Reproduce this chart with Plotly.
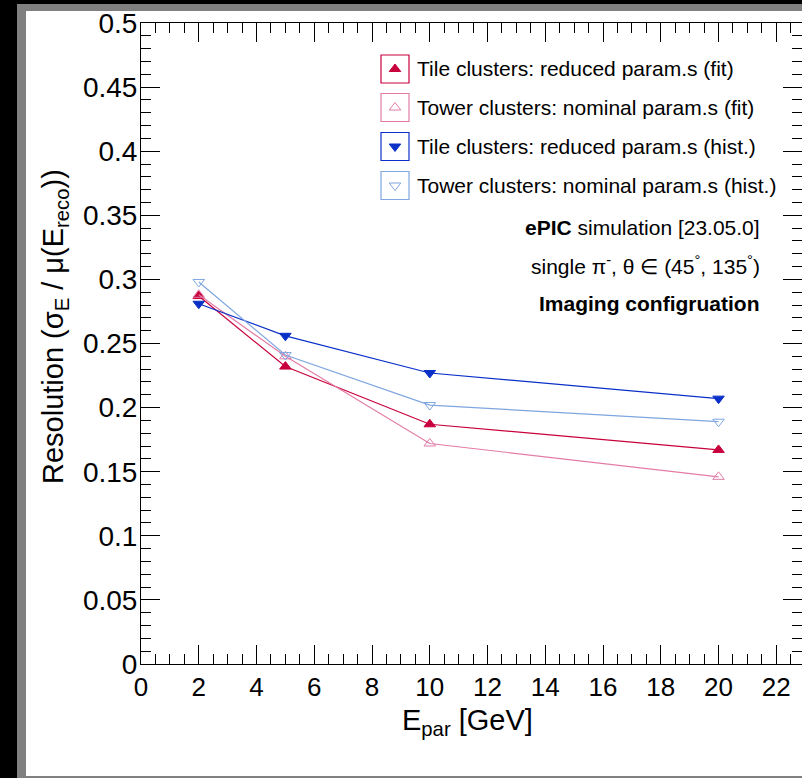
import plotly.graph_objects as go

# ---------------- data ----------------
energies = [2, 5, 10, 20]
tile_fit = [0.287, 0.232, 0.187, 0.167]
tower_fit = [0.288, 0.240, 0.172, 0.146]
tile_hist = [0.281, 0.256, 0.227, 0.207]
tower_hist = [0.298, 0.241, 0.202, 0.189]

series_names = [
    "Tile clusters: reduced param.s (fit)",
    "Tower clusters: nominal param.s (fit)",
    "Tile clusters: reduced param.s (hist.)",
    "Tower clusters: nominal param.s (hist.)",
]
series_values = [tile_fit, tower_fit, tile_hist, tower_hist]
series_colors = ["#c8003c", "#e27ca6", "#0a30c8", "#7ea6e0"]
series_symbols = ["triangle-up", "triangle-up-open", "triangle-down", "triangle-down-open"]

x_ticks = list(range(0, 23, 2))

FONT = "Liberation Sans, Arial, Helvetica, sans-serif"

W, H = 802, 778
L, R, T, B = 141, 0, 23, 114
PW = W - L - R
PH = H - T - B


def px(xp):
    return (xp - L) / PW


def py(yp):
    return (H - B - yp) / PH


fig = go.Figure()

for name, vals, col, sym in zip(series_names, series_values, series_colors, series_symbols):
    fig.add_trace(go.Scatter(
        x=energies, y=vals, mode="lines+markers", name=name,
        line=dict(color=col, width=1.2),
        marker=dict(symbol=sym, size=10, color=col, line=dict(color=col, width=1)),
        showlegend=False, cliponaxis=False,
    ))

# ---------------- manual legend ----------------
leg_x = 395
leg_rows = [69, 107.5, 146.5, 185.5]
box = 14
shapes = []
# outer black / grey frame / white canvas
shapes.append(dict(type="rect", xref="paper", yref="paper", layer="below",
                   x0=px(-20), x1=px(26), y0=py(800), y1=py(-20),
                   fillcolor="black", line=dict(width=0)))
shapes.append(dict(type="rect", xref="paper", yref="paper", layer="below",
                   x0=px(-20), x1=px(820), y0=py(11), y1=py(-20),
                   fillcolor="black", line=dict(width=0)))
shapes.append(dict(type="rect", xref="paper", yref="paper", layer="below",
                   x0=px(17), x1=px(820), y0=py(800), y1=py(4),
                   fillcolor="#808080", line=dict(width=0)))
shapes.append(dict(type="rect", xref="paper", yref="paper", layer="below",
                   x0=px(26), x1=px(820), y0=py(776), y1=py(11),
                   fillcolor="white", line=dict(width=0)))

annotations = []
for i, (name, col, sym) in enumerate(zip(series_names, series_colors, series_symbols)):
    yc = leg_rows[i]
    shapes.append(dict(type="rect", xref="paper", yref="paper",
                       x0=px(leg_x - box), x1=px(leg_x + box),
                       y0=py(yc + box), y1=py(yc - box),
                       line=dict(color=col, width=1.2), fillcolor="rgba(0,0,0,0)", layer="above"))
    fig.add_trace(go.Scatter(
        x=[px(leg_x)], y=[py(yc)], xaxis="x2", yaxis="y2", mode="markers",
        marker=dict(symbol=sym, size=10, color=col, line=dict(color=col, width=1)),
        showlegend=False, hoverinfo="skip", cliponaxis=False,
    ))
    annotations.append(dict(text=name, xref="paper", yref="paper",
                            x=px(415), y=py(yc), xanchor="left", yanchor="middle",
                            showarrow=False, font=dict(family=FONT, size=21, color="black")))

annotations += [
    dict(text="<b>ePIC</b> simulation [23.05.0]", xref="paper", yref="paper",
         x=px(762), y=py(227), xanchor="right", yanchor="middle", showarrow=False,
         font=dict(family=FONT, size=21, color="black")),
    dict(text="single π<sup>-</sup>, θ ∈ (45<sup>°</sup>, 135<sup>°</sup>)", xref="paper", yref="paper",
         x=px(762), y=py(265), xanchor="right", yanchor="middle", showarrow=False,
         font=dict(family=FONT, size=21, color="black")),
    dict(text="<b>Imaging configruation</b>", xref="paper", yref="paper",
         x=px(762), y=py(303), xanchor="right", yanchor="middle", showarrow=False,
         font=dict(family=FONT, size=21, color="black")),
    dict(text="E<sub>par</sub> [GeV]", xref="paper", yref="paper",
         x=px(467), y=py(722), xanchor="center", yanchor="middle", showarrow=False,
         font=dict(family=FONT, size=29, color="black")),
    dict(text="Resolution (σ<sub>E</sub> / μ(E<sub>reco</sub>))", xref="paper", yref="paper",
         x=px(55), y=py(327), xanchor="center", yanchor="middle", showarrow=False,
         textangle=-90, font=dict(family=FONT, size=29, color="black")),
]

fig.update_layout(
    width=W, height=H,
    margin=dict(l=L, r=R, t=T, b=B, pad=0),
    paper_bgcolor="white", plot_bgcolor="white",
    font=dict(family=FONT, color="black"),
    shapes=shapes, annotations=annotations,
    xaxis=dict(range=[0, 22.89], tickvals=x_ticks, ticktext=[str(v) for v in x_ticks],
               ticks="inside", ticklen=19, tickwidth=1, tickcolor="black",
               showline=True, linecolor="black", linewidth=1, mirror="ticks",
               showgrid=False, zeroline=False,
               tickfont=dict(family=FONT, size=26, color="black"),
               minor=dict(dtick=0.5, tick0=0, ticks="inside", ticklen=10, tickcolor="black", tickwidth=1, showgrid=False)),
    yaxis=dict(range=[0, 0.5], dtick=0.05, tick0=0,
               ticks="inside", ticklen=19, tickwidth=1, tickcolor="black",
               showline=True, linecolor="black", linewidth=1, mirror="ticks",
               showgrid=False, zeroline=False, ticklabelstandoff=-3,
               tickfont=dict(family=FONT, size=28, color="black"),
               minor=dict(dtick=0.01, tick0=0, ticks="inside", ticklen=10, tickcolor="black", tickwidth=1, showgrid=False)),
    xaxis2=dict(overlaying="x", range=[0, 1], visible=False, fixedrange=True),
    yaxis2=dict(overlaying="y", range=[0, 1], visible=False, fixedrange=True),
)

fig.write_html(
    "out.html",
    config={"displayModeBar": False},
    post_script="document.body.style.margin='0';document.body.style.padding='0';document.body.style.overflow='hidden';",
)
